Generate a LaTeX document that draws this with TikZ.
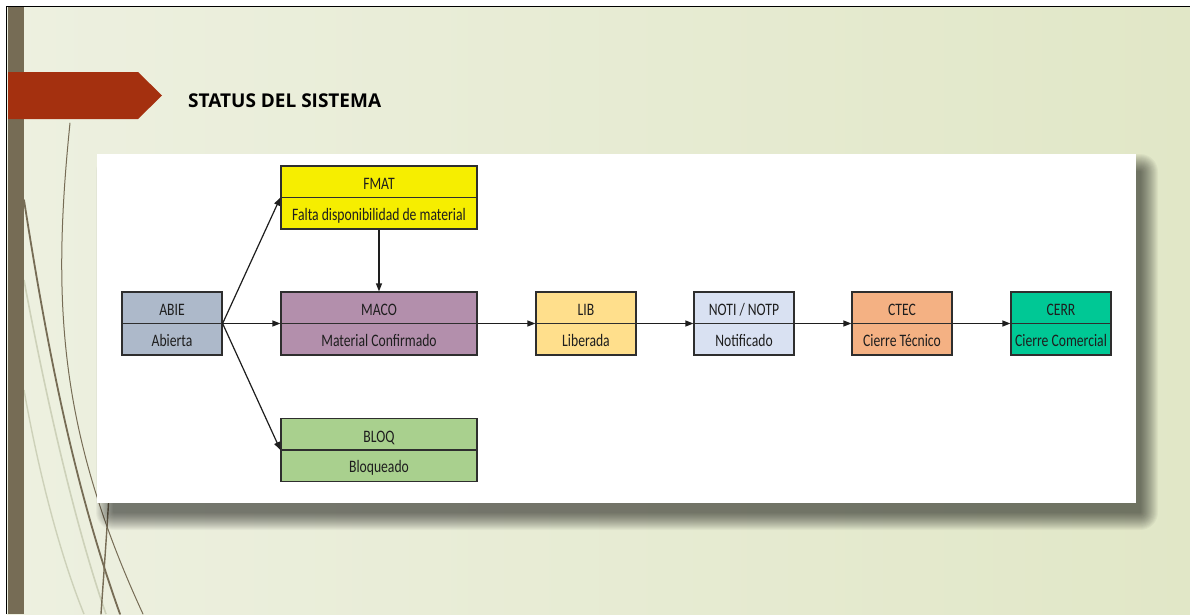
\documentclass[tikz,border=0pt]{standalone}
\usepackage{fontspec}
\setmainfont{Carlito}
\newfontfamily\boxfont[FakeStretch=0.78]{Carlito}
\newfontfamily\titlefont{Open Sans}
\usetikzlibrary{arrows.meta}

\definecolor{bgleft}{HTML}{EDF0E0}
\definecolor{bgmid}{HTML}{F8F9F2}
\definecolor{bgright}{HTML}{E1E7C7}
\definecolor{barc}{HTML}{766C55}
\definecolor{bannerc}{HTML}{A4300F}
\definecolor{wispc}{HTML}{766C55}
\definecolor{wispfaint}{HTML}{CDD1B9}
\definecolor{boxline}{HTML}{2E2E2E}
\definecolor{txt}{HTML}{1E1E1E}
\definecolor{abiec}{HTML}{ADB9CA}
\definecolor{fmatc}{HTML}{F6EE00}
\definecolor{macoc}{HTML}{B38FAC}
\definecolor{bloqc}{HTML}{A9D08E}
\definecolor{libc}{HTML}{FFDF8C}
\definecolor{notic}{HTML}{D9E1F2}
\definecolor{ctecc}{HTML}{F4B183}
\definecolor{cerrc}{HTML}{00C895}

\tikzset{
  statebox/.style={draw=boxline, line width=1.2pt, minimum height=63pt, inner sep=0pt},
  celltext/.style={font=\boxfont\fontsize{17.5}{17.5}\selectfont, text=txt, anchor=base, inner sep=0pt},
  flow/.style={draw=txt, line width=1.2pt, -{Triangle[length=8pt,width=6pt]}},
  wisp/.style={draw=wispc, line cap=round},
}

% two-row status box: name, x, y, width, code, description, fill
\newcommand\statusnode[7]{%
  \node[statebox, fill=#7, minimum width=#4pt] (#1) at (#2,#3) {};
  \draw[boxline, line width=1.2pt] (#1.west) -- (#1.east);
  \node[celltext] (#1-code) at ([yshift=8pt]#1.center) {#5};
  \node[celltext] (#1-name) at ([yshift=-22.5pt]#1.center) {#6};
}

\begin{document}
\begin{tikzpicture}[x=1pt, y=-1pt]
  \useasboundingbox (0,0) rectangle (1190,614);
  \fill[white] (0,0) rectangle (1190,614);

  % slide background
  \shade[left color=bgleft, middle color=bgmid, right color=bgright]
    (7,7) rectangle (1190,614);

  % decorative strands on the left
  \draw[draw=wispfaint, line width=1.6pt] (24,280) .. controls (50,420) and (80,540) .. (106,614);
  \draw[draw=wispfaint, line width=1.4pt] (24,390) .. controls (40,480) and (62,560) .. (84,614);
  \draw[wisp, line width=1.0pt] (70,123) .. controls (52,300) and (58,430) .. (143,614);
  \draw[wisp, line width=1.8pt] (24,200) .. controls (46,340) and (72,480) .. (120,614);
  \draw[wisp, line width=1.4pt] (112,440) .. controls (108,520) and (104,570) .. (101,614);

  % left bar and frame
  \fill[barc] (8,7) rectangle (24,614);
  \draw[black, line width=1.6pt] (6.5,614) -- (6.5,6.5) -- (1190,6.5);

  % title banner
  \fill[bannerc] (8,72) -- (138,72) -- (162,95.5) -- (138,119) -- (8,119) -- cycle;
  \node[font=\titlefont\bfseries\fontsize{19}{19}\selectfont, anchor=base west, inner sep=0pt, text=black]
    (title) at (188,107) {STATUS DEL SISTEMA};

  % soft shadow under the white panel
  \foreach \k in {1,...,18}
    \fill[black, opacity=0.035, rounded corners=\k pt]
      (114-\k,172-\k) rectangle (1140+\k,512+\k);

  % white panel
  \fill[white] (97,154) rectangle (1136,503);

  % status boxes
  \statusnode{abie}{172}{323.5}{100}{ABIE}{Abierta}{abiec}
  \statusnode{fmat}{379}{197.5}{196}{FMAT}{Falta disponibilidad de material}{fmatc}
  \statusnode{maco}{379}{323.5}{196}{MACO}{Material Confirmado}{macoc}
  \statusnode{bloq}{379}{450}{196}{BLOQ}{Bloqueado}{bloqc}
  \statusnode{lib}{586}{323.5}{100}{LIB}{Liberada}{libc}
  \statusnode{noti}{744}{323.5}{100}{NOTI / NOTP}{Notificado}{notic}
  \statusnode{ctec}{902}{323.5}{100}{CTEC}{Cierre Técnico}{ctecc}
  \statusnode{cerr}{1061}{323.5}{100}{CERR}{Cierre Comercial}{cerrc}

  % transitions
  \draw[flow] (abie.east) -- (fmat.west);
  \draw[flow] (abie.east) -- (maco.west);
  \draw[flow] (abie.east) -- (bloq.west);
  \draw[flow] (fmat.south) -- (maco.north);
  \draw[flow] (maco.east) -- (lib.west);
  \draw[flow] (lib.east) -- (noti.west);
  \draw[flow] (noti.east) -- (ctec.west);
  \draw[flow] (ctec.east) -- (cerr.west);
\end{tikzpicture}
\end{document}
